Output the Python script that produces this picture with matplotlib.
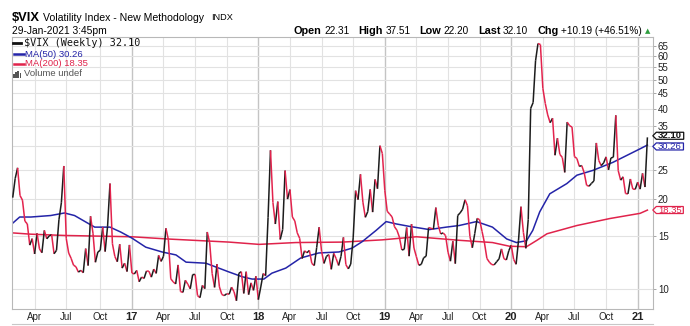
import numpy as np
import pandas as pd
import matplotlib
matplotlib.use("Agg")
import matplotlib.pyplot as plt
from matplotlib.collections import LineCollection
from matplotlib.path import Path
from matplotlib.lines import Line2D
from matplotlib.patches import Rectangle
from matplotlib.ticker import NullLocator

# weekly closes, $VIX, 29-Jan-2016 .. 29-Jan-2021
vix_2016 = [20.20, 23.38, 25.40, 20.53, 19.81, 16.86, 16.50, 14.02, 14.74, 13.10,
            15.36, 13.62, 13.22, 15.70, 14.72, 15.04, 15.20, 13.12, 13.47, 17.03,
            19.41, 25.76, 14.77, 13.20, 12.67, 12.02, 11.87, 11.39, 11.55, 11.34,
            13.65, 11.98, 17.50, 15.37, 12.29, 13.29, 13.48, 16.12, 13.34, 16.19,
            22.51, 14.17, 12.85, 12.34, 14.12, 11.75, 12.20, 11.44, 14.04]
vix_2017 = [11.32, 11.23, 11.54, 10.58, 10.97, 10.85, 11.49, 11.47, 10.96, 11.66,
            11.28, 12.96, 12.37, 12.87, 15.96, 14.63, 10.82, 10.57, 10.40, 12.04,
            9.81, 9.75, 10.70, 10.38, 10.02, 11.18, 11.19, 9.51, 9.36, 10.29,
            10.03, 15.51, 14.26, 11.28, 10.13, 12.12, 10.17, 9.59, 9.51, 9.65,
            9.61, 10.15, 9.80, 9.14, 11.29, 11.43, 9.67, 11.43, 9.58, 10.49,
            9.90, 11.04]
vix_2018 = [9.22, 10.16, 11.27, 11.08, 17.31, 29.06, 19.46, 16.49, 19.59, 14.64,
            15.80, 24.87, 19.97, 21.49, 17.41, 16.88, 15.41, 14.77, 12.65, 13.42,
            13.22, 13.46, 12.18, 11.98, 13.77, 16.09, 13.37, 12.18, 12.86, 13.03,
            11.64, 13.16, 12.64, 11.99, 12.86, 14.88, 12.07, 11.68, 12.12, 14.82,
            21.31, 19.89, 24.16, 19.51, 17.36, 18.14, 21.52, 18.07, 23.23, 21.63,
            30.11, 28.34]
vix_2019 = [21.38, 18.19, 17.80, 17.42, 16.14, 15.72, 14.91, 13.51, 13.57, 16.05,
            12.88, 16.48, 13.71, 12.82, 12.01, 12.09, 12.73, 12.87, 16.04, 15.96,
            15.85, 18.71, 16.30, 15.28, 15.40, 15.08, 13.28, 12.39, 14.45, 12.16,
            17.61, 17.97, 18.47, 19.87, 18.98, 15.00, 13.74, 15.32, 17.22, 17.04,
            15.58, 14.25, 12.65, 12.30, 12.07, 12.05, 12.34, 12.62, 13.62, 12.63,
            12.51, 13.43]
vix_2020 = [14.02, 12.56, 12.10, 14.56, 18.84, 15.47, 13.68, 17.08, 40.11, 41.94,
            57.83, 66.04, 65.54, 46.80, 41.67, 38.15, 35.93, 37.19, 27.98, 31.89,
            28.16, 27.51, 24.52, 36.09, 35.12, 34.73, 27.68, 27.29, 25.68, 25.84,
            24.46, 22.21, 22.05, 22.54, 22.96, 30.75, 26.87, 25.83, 26.38, 27.63,
            25.00, 27.41, 27.55, 38.02, 24.86, 23.10, 23.70, 20.84, 20.79, 23.31,
            21.57, 21.53, 22.75]
vix_2021 = [21.56, 24.34, 21.91, 32.10]
vix = np.array(vix_2016 + vix_2017 + vix_2018 + vix_2019 + vix_2020 + vix_2021)
dates = pd.date_range("2016-01-29", "2021-01-29", freq="W-FRI")

# moving averages
ma50_dates = ["2016-01-29", "2016-02-18", "2016-03-21", "2016-05-17", "2016-06-26",
              "2016-07-25", "2016-09-01", "2016-09-21", "2016-11-04", "2016-12-05",
              "2017-01-06", "2017-02-15", "2017-04-03", "2017-05-13", "2017-06-11",
              "2017-08-07", "2017-10-13", "2017-11-19", "2017-12-18", "2018-01-21",
              "2018-02-13", "2018-03-25", "2018-05-07", "2018-06-28", "2018-08-25",
              "2018-10-02", "2018-10-31", "2018-12-10", "2019-01-08", "2019-02-06",
              "2019-03-15", "2019-05-12", "2019-06-30", "2019-08-06", "2019-09-25",
              "2019-11-10", "2019-12-21", "2020-01-18", "2020-02-16", "2020-03-05",
              "2020-03-25", "2020-04-23", "2020-06-11", "2020-07-10", "2020-08-25",
              "2020-10-22", "2021-01-08", "2021-01-29"]
ma50_vals = [16.6, 17.4, 17.4, 17.6, 17.95, 17.6, 16.6, 16.1, 16.1, 15.5,
             14.8, 13.8, 13.3, 13.0, 12.3, 12.2, 11.4, 11.0, 10.8, 10.8,
             11.3, 11.75, 12.7, 13.2, 13.3, 13.7, 14.4, 15.7, 16.8, 16.5,
             16.2, 15.8, 16.1, 16.3, 16.8, 16.1, 14.7, 14.3, 14.5, 15.7,
             18.1, 20.8, 22.5, 24.0, 24.9, 26.5, 29.4, 30.26]
ma200_dates = ["2016-01-29", "2016-03-21", "2016-06-26", "2017-01-06", "2017-04-17",
               "2017-10-13", "2018-01-07", "2018-04-23", "2018-09-04", "2018-12-28",
               "2019-04-05", "2019-08-06", "2019-11-10", "2019-12-29", "2020-02-16",
               "2020-03-17", "2020-04-15", "2020-07-10", "2020-10-13", "2021-01-08",
               "2021-01-29"]
ma200_vals = [15.4, 15.25, 15.1, 14.95, 14.7, 14.35, 14.1, 14.3, 14.35, 14.6,
              14.95, 14.55, 14.3, 13.9, 13.85, 14.55, 15.3, 16.3, 17.2, 17.9, 18.35]

y_ticks = [10, 15, 20, 25, 30, 35, 40, 45, 50, 55, 60, 65]
# the "30" label sits under the MA(50) tag on the original
y_labels = ["10", "15", "20", "25", "", "35", "40", "45", "50", "55", "60", "65"]

header = [("Open", "22.31"), ("High", "37.51"), ("Low", "22.20"),
          ("Last", "32.10"), ("Chg", "+10.19 (+46.51%)")]

PRICE_UP = "#1c1c1c"
PRICE_DN = "#e3234d"
BLUE = "#2424a8"
RED = "#e0234b"

idx = np.arange(len(vix))
day_num = dates.values.astype("datetime64[D]").astype(float)


def to_idx(ds):
    d = pd.to_datetime(ds).values.astype("datetime64[D]").astype(float)
    return np.interp(d, day_num, idx)


W, H = 690, 326
fig = plt.figure(figsize=(W / 100, H / 100), dpi=100)
plt.rcParams["font.family"] = ["Liberation Sans", "DejaVu Sans"]


def px(x, y):
    return x / W, 1 - y / H


ax = fig.add_axes([12 / W, 17 / H, 641 / W, 272.5 / H])
ax.set_yscale("log")
ax.set_ylim(8.58, 69.7)
ax.set_xlim(-0.3, len(vix) + 1.3)

# gridlines at first bar of each quarter
ticks, labels, is_year = [], [], []
for i in range(1, len(dates)):
    m0, m1 = dates[i - 1].month, dates[i].month
    if m1 != m0 and m1 in (1, 4, 7, 10):
        ticks.append(i)
        if m1 == 1:
            labels.append(dates[i].strftime("%y"))
            is_year.append(True)
        else:
            labels.append(dates[i].strftime("%b"))
            is_year.append(False)
for t, yr in zip(ticks, is_year):
    ax.axvline(t, color="#c4c4c4" if yr else "#e2e2e2", lw=1.0 if yr else 0.8, zorder=0)
for v in y_ticks:
    ax.axhline(v, color="#e2e2e2", lw=0.8, zorder=0)

ax.set_xticks(ticks)
ax.set_xticklabels(labels)
for lab, yr in zip(ax.get_xticklabels(), is_year):
    if yr:
        lab.set_fontweight("bold")
        lab.set_fontsize(8)
    else:
        lab.set_fontsize(7)
ax.tick_params(axis="x", length=0, pad=2.5, colors="#222222")

ax.yaxis.tick_right()
ax.set_yticks(y_ticks)
ax.set_yticklabels(y_labels)
ax.yaxis.set_minor_locator(NullLocator())
ax.tick_params(axis="y", which="major", length=2, width=0.6, pad=1.5,
               labelsize=7, colors="#999999", labelcolor="#222222")

for s in ax.spines.values():
    s.set_color("#b8b8b8")
    s.set_linewidth(0.8)

# moving averages
ax.plot(to_idx(ma200_dates), ma200_vals, color=RED, lw=1.1, zorder=2)
ax.plot(to_idx(ma50_dates), ma50_vals, color=BLUE, lw=1.1, zorder=2)

# price line, black on up weeks, red on down weeks
pts = np.column_stack([idx, vix])
segs = np.stack([pts[:-1], pts[1:]], axis=1)
cols = [PRICE_UP if b > a else PRICE_DN for a, b in zip(vix[:-1], vix[1:])]
ax.add_collection(LineCollection(segs, colors=cols, linewidths=1.1, zorder=3))


def tag_box(x0, y0, width, height, mutation_size):
    padx = 0.18 * mutation_size
    y0 = y0 + height * 0.12
    h = height * 0.78
    x0 = x0 - padx
    w = width + 2 * padx
    tip = h * 0.5
    verts = [(x0 - tip, y0 + h / 2), (x0, y0), (x0 + w, y0), (x0 + w, y0 + h),
             (x0, y0 + h), (x0 - tip, y0 + h / 2), (x0 - tip, y0 + h / 2)]
    return Path(verts, closed=True)


# last-value tags on the price axis (small vertical nudge keeps them apart)
for val, col, wt, z, dy in [(ma200_vals[-1], RED, "normal", 5, 0),
                            (ma50_vals[-1], BLUE, "normal", 5, -1.5),
                            (vix[-1], "#111111", "bold", 6, 1.5)]:
    ax.annotate(f"{val:.2f}", xy=(1, val), xycoords=("axes fraction", "data"),
                xytext=(5, dy), textcoords="offset pixels", ha="left", va="center",
                fontsize=6.8, color=col, fontweight=wt, annotation_clip=False, zorder=z,
                bbox=dict(boxstyle=tag_box, fc="white", ec=col, lw=0.9))

# header
fig.text(*px(12, 20.7), "$VIX", fontsize=9.3, fontweight="bold", va="baseline")
fig.text(*px(43, 20.7), "Volatility Index - New Methodology", fontsize=7.6, va="baseline")
fig.text(*px(211, 20.5), "INDX", fontsize=6.6, va="baseline")
fig.text(*px(12, 33.5), "29-Jan-2021 3:45pm", fontsize=7.4, va="baseline")

renderer = fig.canvas.get_renderer()
x = 294
for lab, val in header:
    t = fig.text(*px(x, 34), lab, fontsize=7.8, fontweight="bold", va="baseline")
    x = t.get_window_extent(renderer).x1 + 2.5
    t = fig.text(*px(x, 34), val, fontsize=7.2, va="baseline")
    x = t.get_window_extent(renderer).x1 + 9
fig.text(*px(x - 6, 33.5), "\u25B2", fontsize=5, color="#2e9e3e", va="baseline",
         family="DejaVu Sans")

# legend block
fig.add_artist(Line2D([13 / W, 21 / W], [1 - 43.3 / H] * 2, color="#111111", lw=2))
fig.text(*px(24, 43.5), "$VIX (Weekly) 32.10", fontsize=7.3, va="center",
         family="DejaVu Sans Mono", color="#111111")
fig.add_artist(Line2D([14 / W, 24 / W], [1 - 54.3 / H] * 2, color=BLUE, lw=1.8))
fig.text(*px(25, 54.3), "MA(50) 30.26", fontsize=6.8, va="center", color=BLUE)
fig.add_artist(Line2D([14 / W, 24 / W], [1 - 63.5 / H] * 2, color=RED, lw=1.8))
fig.text(*px(25, 63.5), "MA(200) 18.35", fontsize=6.8, va="center", color=RED)
for k, hgt in enumerate([4, 6, 7, 5]):
    fig.add_artist(Rectangle((px(13 + 2.2 * k, 0)[0], 1 - 78 / H), 1.5 / W, hgt / H,
                             color="#555555", lw=0))
fig.text(*px(24, 74), "Volume undef", fontsize=6.8, va="center", color="#555555")

# top of next panel
fig.add_artist(Line2D([12 / W, 653 / W], [1 - 323.5 / H] * 2, color="#c8c8c8", lw=0.8))

fig.savefig("out.png", dpi=100, facecolor="white")
